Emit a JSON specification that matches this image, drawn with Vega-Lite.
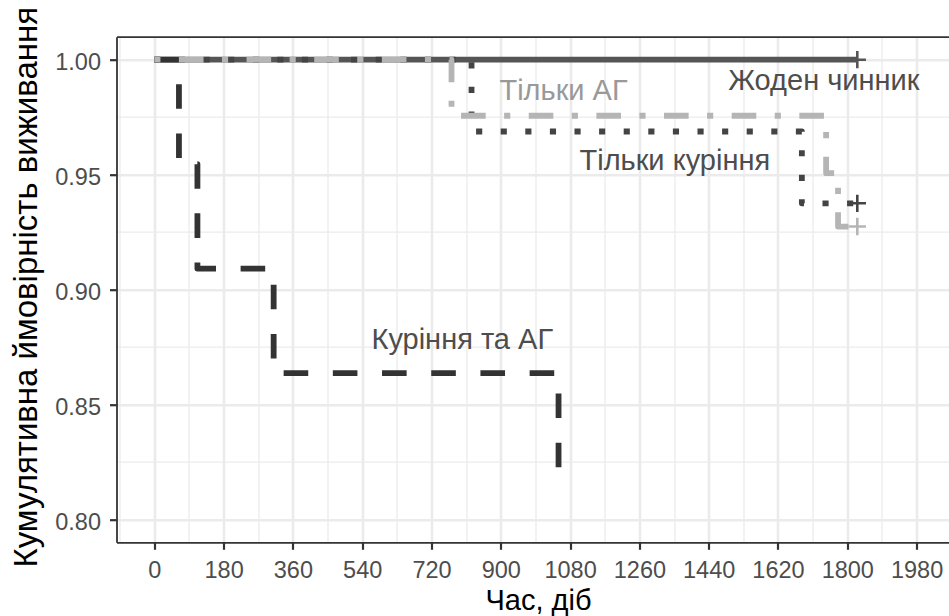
{
  "$schema": "https://vega.github.io/schema/vega-lite/v6.json",
  "width": 832,
  "height": 505.6,
  "autosize": {"type": "none"},
  "padding": {"left": 116.5, "top": 36.7, "right": 0.5, "bottom": 73.7},
  "background": "white",
  "config": {"view": {"stroke": null}, "font": "Liberation Sans"},
  "datasets": {
    "curves": [
      {"group": "Жоден чинник", "time": 0, "surv": 1},
      {"group": "Жоден чинник", "time": 1826, "surv": 1},
      {"group": "Куріння та АГ", "time": 0, "surv": 1},
      {"group": "Куріння та АГ", "time": 64, "surv": 0.9545},
      {"group": "Куріння та АГ", "time": 112, "surv": 0.9091},
      {"group": "Куріння та АГ", "time": 310, "surv": 0.8636},
      {"group": "Куріння та АГ", "time": 1050, "surv": 0.8182},
      {"group": "Тільки АГ", "time": 0, "surv": 1},
      {"group": "Тільки АГ", "time": 772, "surv": 0.9756},
      {"group": "Тільки АГ", "time": 1745, "surv": 0.9506},
      {"group": "Тільки АГ", "time": 1776, "surv": 0.9274},
      {"group": "Тільки АГ", "time": 1826, "surv": 0.9274},
      {"group": "Тільки куріння", "time": 0, "surv": 1},
      {"group": "Тільки куріння", "time": 824, "surv": 0.96875},
      {"group": "Тільки куріння", "time": 1682, "surv": 0.9375},
      {"group": "Тільки куріння", "time": 1826, "surv": 0.9375}
    ],
    "censors": [
      {"group": "Жоден чинник", "time": 1826, "surv": 1},
      {"group": "Тільки куріння", "time": 1826, "surv": 0.9375},
      {"group": "Тільки АГ", "time": 1826, "surv": 0.9274}
    ],
    "labels": [
      {"label": "Жоден чинник", "time": 1739, "surv": 0.9868},
      {"label": "Тільки АГ", "time": 1063, "surv": 0.9825},
      {"label": "Тільки куріння", "time": 1352, "surv": 0.952},
      {"label": "Куріння та АГ", "time": 800, "surv": 0.874}
    ]
  },
  "layer": [
    {
      "data": {"name": "curves"},
      "transform": [{"filter": "datum.group === 'Жоден чинник'"}],
      "mark": {"type": "line", "interpolate": "step-after", "strokeWidth": 5.8, "color": "#555555", "strokeCap": "butt", "strokeJoin": "round"},
      "encoding": {
        "x": {
          "field": "time", "type": "quantitative",
          "scale": {"domain": [-98.2, 2062.9], "nice": false, "zero": false},
          "axis": {
            "orient": "bottom",
            "values": [-90, 0, 90, 180, 270, 360, 450, 540, 630, 720, 810, 900, 990, 1080, 1170, 1260, 1350, 1440, 1530, 1620, 1710, 1800, 1890, 1980],
            "labelExpr": "datum.value % 180 === 0 ? datum.label : ''",
            "format": "d",
            "grid": true,
            "gridColor": "#ebebeb",
            "gridWidth": {"condition": {"test": "datum.value % 180 === 0", "value": 2.6}, "value": 1.3},
            "tickOpacity": {"condition": {"test": "datum.value % 180 === 0", "value": 1}, "value": 0},
            "tickColor": "#333333",
            "tickWidth": 2.2,
            "tickSize": 7,
            "domain": true,
            "domainColor": "#333333",
            "domainWidth": 1.8,
            "labelFontSize": 23.5,
            "labelColor": "#4d4d4d",
            "labelBaseline": "alphabetic",
            "labelPadding": 28.2,
            "labelOverlap": false,
            "labelFlush": false,
            "title": "Час, діб",
            "titleFontSize": 29,
            "titleFontWeight": "normal",
            "titleColor": "#000000",
            "titleBaseline": "alphabetic",
            "titleAlign": "center",
            "titleX": 421.5,
            "titleY": 67
          }
        },
        "y": {
          "field": "surv", "type": "quantitative",
          "scale": {"domain": [0.79, 1.01], "nice": false, "zero": false},
          "axis": {
            "values": [0.8, 0.825, 0.85, 0.875, 0.9, 0.925, 0.95, 0.975, 1.0],
            "format": ".2f",
            "labelExpr": "abs(datum.value*20 - round(datum.value*20)) < 0.001 ? datum.label : ''",
            "grid": true,
            "gridColor": "#ebebeb",
            "gridWidth": {"condition": {"test": "abs(datum.value*20 - round(datum.value*20)) < 0.001", "value": 2.6}, "value": 1.3},
            "tickOpacity": {"condition": {"test": "abs(datum.value*20 - round(datum.value*20)) < 0.001", "value": 1}, "value": 0},
            "tickColor": "#333333",
            "tickWidth": 2.2,
            "tickSize": 7,
            "domain": true,
            "domainColor": "#333333",
            "domainWidth": 1.8,
            "labelFontSize": 23.5,
            "labelColor": "#4d4d4d",
            "labelPadding": 9,
            "labelOffset": 3,
            "labelOverlap": false,
            "labelFlush": false,
            "title": "Кумулятивна ймовірність виживання",
            "titleFontSize": 33,
            "titleFontWeight": "normal",
            "titleColor": "#000000",
            "titleBaseline": "alphabetic",
            "titleAngle": -90,
            "titleAlign": "center",
            "titleX": -80,
            "titleY": 250
          }
        }
      }
    },
    {
      "data": {"name": "curves"},
      "transform": [{"filter": "datum.group === 'Тільки куріння'"}],
      "mark": {"type": "line", "interpolate": "step-after", "strokeWidth": 5.8, "color": "#444444", "strokeDash": [6.15, 18.45], "strokeCap": "butt", "strokeJoin": "round"},
      "encoding": {
        "x": {"field": "time", "type": "quantitative", "axis": null},
        "y": {"field": "surv", "type": "quantitative"}
      }
    },
    {
      "data": {"name": "curves"},
      "transform": [{"filter": "datum.group === 'Куріння та АГ'"}],
      "mark": {"type": "line", "interpolate": "step-after", "strokeWidth": 5.8, "color": "#333333", "strokeDash": [24.6, 24.6], "strokeCap": "butt", "strokeJoin": "round"},
      "encoding": {
        "x": {"field": "time", "type": "quantitative", "axis": null},
        "y": {"field": "surv", "type": "quantitative"}
      }
    },
    {
      "data": {"name": "curves"},
      "transform": [{"filter": "datum.group === 'Тільки АГ'"}],
      "mark": {"type": "line", "interpolate": "step-after", "strokeWidth": 5.8, "color": "#b5b5b5", "strokeDash": [6.15, 18.45, 24.6, 18.45], "strokeCap": "butt", "strokeJoin": "round"},
      "encoding": {
        "x": {"field": "time", "type": "quantitative", "axis": null},
        "y": {"field": "surv", "type": "quantitative"}
      }
    },
    {
      "data": {"name": "censors"},
      "mark": {"type": "point", "shape": "M-1,0H1M0,-1V1", "filled": false, "strokeWidth": 2.6, "size": 300, "opacity": 1},
      "encoding": {
        "x": {"field": "time", "type": "quantitative", "axis": null},
        "y": {"field": "surv", "type": "quantitative"},
        "color": {
          "field": "group", "type": "nominal", "legend": null,
          "scale": {"domain": ["Жоден чинник", "Тільки куріння", "Тільки АГ"], "range": ["#555555", "#444444", "#b5b5b5"]}
        }
      }
    },
    {
      "data": {"name": "labels"},
      "mark": {"type": "text", "fontSize": 29, "align": "center", "baseline": "alphabetic", "font": "Liberation Sans"},
      "encoding": {
        "x": {
          "field": "time", "type": "quantitative",
          "axis": {"orient": "top", "domain": true, "domainColor": "#333333", "domainWidth": 1.8, "labels": false, "ticks": false, "grid": false, "title": null}
        },
        "y": {"field": "surv", "type": "quantitative"},
        "text": {"field": "label"},
        "color": {"condition": {"test": "datum.label === 'Тільки АГ'", "value": "#999999"}, "value": "#4d4d4d"}
      }
    }
  ],
  "resolve": {"axis": {"x": "independent"}}
}
